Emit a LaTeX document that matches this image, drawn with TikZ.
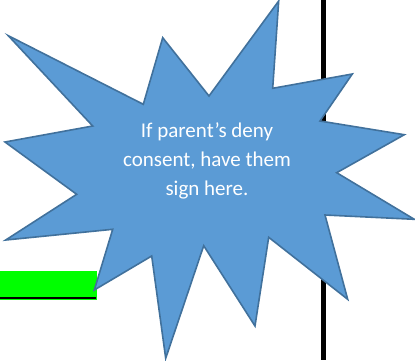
\documentclass[tikz,border=0pt]{standalone}
\usepackage{fontspec}
\setmainfont{Carlito}
\definecolor{starfill}{HTML}{5B9BD5}
\definecolor{starline}{HTML}{41719C}
\definecolor{barfill}{HTML}{00FF00}
\tikzset{
  starburst/.style={fill=starfill, draw=starline, line width=1.6pt, line join=miter},
  startext/.style={text=white, align=center, font=\fontsize{21}{29.3}\selectfont, inner sep=0pt},
}
\begin{document}
\begin{tikzpicture}[x=1pt,y=-1pt]
\useasboundingbox (0,0) rectangle (415,360);
% vertical black line
\fill[black] (321,0) rectangle (325.5,360);
% green bar with black underline
\fill[barfill] (0,271) rectangle (97,300);
\fill[black] (0,296.8) rectangle (96,299);
% starburst
\draw[starburst] (8.3,35.7) -- (143.3,104.3) -- (162.7,37.7) -- (209,96) -- (278.7,1)
  -- (272.7,88.3) -- (352.3,74) -- (320,121) -- (404.3,134.7) -- (336.7,172.7)
  -- (414.3,219.3) -- (325,215) -- (347.7,299.3) -- (268.7,237.3) -- (255,326)
  -- (203.7,245.7) -- (165.7,358.3) -- (151.7,256) -- (94.3,290) -- (112.7,229.3)
  -- (5.7,240) -- (76.7,194.3) -- (5,142) -- (92.7,126) -- cycle;
\node[startext] (msg) at (207,161) {If parent’s deny\\consent, have them\\sign here.};
\end{tikzpicture}
\end{document}
